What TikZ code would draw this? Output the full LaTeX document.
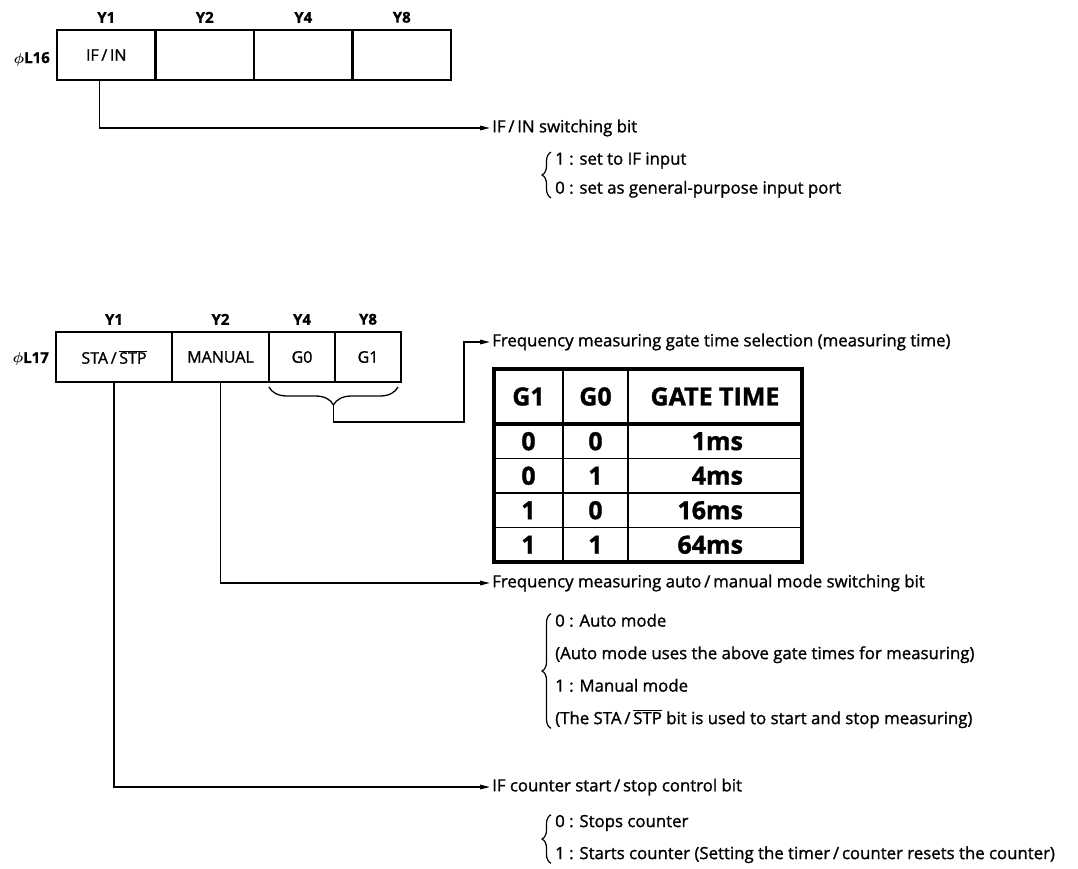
\documentclass[tikz,border=0pt]{standalone}
\usepackage{fontspec}
\setmainfont{Open Sans}[FakeBold=1.2]
\usetikzlibrary{arrows.meta,positioning,decorations.pathreplacing}
\newcommand\stpbar{\ensuremath{\overline{\mbox{STP}}}}
\newcommand\gatems[1]{\makebox[56pt][r]{#1}}

\begin{document}
\begin{tikzpicture}[
    x=1pt, y=-1pt,
    bitcell/.style={draw, line width=2.6pt, outer sep=0pt, inner sep=0pt, minimum height=50pt, font=\fontsize{16}{18}\selectfont},
    bitname/.style={inner sep=1pt, font=\bfseries\fontsize{15}{17}\selectfont},
    regname/.style={inner sep=1pt, font=\bfseries\boldmath\fontsize{15}{17}\selectfont},
    caption/.style={anchor=west, inner sep=2pt, font=\fontsize{16.8}{19}\selectfont},
    choices/.style={anchor=west, align=left, inner sep=0pt},
    curly/.style={decorate, decoration={brace, amplitude=9pt, raise=4pt}, line width=1.2pt},
    conn/.style={line width=1.3pt, -{Triangle[length=10pt,width=4.5pt]}},
    gatecell/.style={draw, line width=1.8pt, outer sep=0pt, inner sep=0pt, minimum height=34.5pt, font=\bfseries\fontsize{25}{28}\selectfont},
    node distance=0pt
]
\useasboundingbox (0,0) rectangle (1078,869);

\node[bitcell, minimum width=98.5pt] (c16a) at (106.25,55) {IF\,/\,IN};
\node[bitcell, minimum width=98.5pt, right=of c16a] (c16b) {};
\node[bitcell, minimum width=98.5pt, right=of c16b] (c16c) {};
\node[bitcell, minimum width=98.5pt, right=of c16c] (c16d) {};
\node[bitname, above=6pt of c16a] (n16a) {Y1};
\node[bitname, above=6pt of c16b] (n16b) {Y2};
\node[bitname, above=6pt of c16c] (n16c) {Y4};
\node[bitname, above=6pt of c16d] (n16d) {Y8};
\node[regname, left=6pt of c16a, yshift=-4pt] (r16) {$\phi$L16};

\node[caption] (t16) at (490,128) {IF\,/\,IN switching bit};
\node[choices, font=\fontsize{16.8}{29}\selectfont] (o16) at (555,175) {1 : set to IF input\\0 : set as general-purpose input port};
\draw[conn] ([xshift=-7pt]c16a.south) |- (t16.west);
\draw[curly] (o16.south west) -- (o16.north west);

\node[bitcell, minimum width=116pt] (c17a) at (114,357) {STA\,/\,\stpbar};
\node[bitcell, minimum width=97pt, right=of c17a] (c17b) {MANUAL};
\node[bitcell, minimum width=66pt, right=of c17b] (c17c) {G0};
\node[bitcell, minimum width=66pt, right=of c17c] (c17d) {G1};
\node[bitname, above=6pt of c17a] (n17a) {Y1};
\node[bitname, above=6pt of c17b] (n17b) {Y2};
\node[bitname, above=6pt of c17c] (n17c) {Y4};
\node[bitname, above=6pt of c17d] (n17d) {Y8};
\node[regname, left=6pt of c17a, yshift=-2pt] (r17) {$\phi$L17};

\draw[decorate, decoration={brace, amplitude=18pt}, line width=1.3pt] ([xshift=-3pt,yshift=-5pt]c17d.south east) -- ([yshift=-5pt]c17c.south west);
\coordinate (gtip) at (333.5,405);

\node[caption] (gate) at (490,342) {Frequency measuring gate time selection (measuring time)};
\draw[conn] (gtip) |- ++(130.5,17) |- (gate.west);

\node[gatecell, minimum width=69pt, minimum height=55pt] (hg1) at (528.5,396.5) {G1};
\node[gatecell, minimum width=65pt, minimum height=55pt, right=of hg1] (hg0) {G0};
\node[gatecell, minimum width=174pt, minimum height=55pt, right=of hg0] (htime) {GATE TIME};
\node[gatecell, minimum width=69pt, below=of hg1] (a1) {0};
\node[gatecell, minimum width=65pt, right=of a1] (b1) {0};
\node[gatecell, minimum width=174pt, right=of b1] (t1) {\gatems{1ms}};
\node[gatecell, minimum width=69pt, below=of a1] (a2) {0};
\node[gatecell, minimum width=65pt, right=of a2] (b2) {1};
\node[gatecell, minimum width=174pt, right=of b2] (t2) {\gatems{4ms}};
\node[gatecell, minimum width=69pt, below=of a2] (a3) {1};
\node[gatecell, minimum width=65pt, right=of a3] (b3) {0};
\node[gatecell, minimum width=174pt, right=of b3] (t3) {\gatems{16ms}};
\node[gatecell, minimum width=69pt, below=of a3] (a4) {1};
\node[gatecell, minimum width=65pt, right=of a4] (b4) {1};
\node[gatecell, minimum width=174pt, right=of b4] (t4) {\gatems{64ms}};
\draw[line width=3.2pt] (hg1.south west) -- (htime.south east);
\draw[line width=3.2pt] (hg1.north west) rectangle (t4.south east);

\node[caption] (auto) at (490,583) {Frequency measuring auto\,/\,manual mode switching bit};
\node[choices, font=\fontsize{16.8}{32.5}\selectfont] (o17b) at (555,671) {0 : Auto mode\\(Auto mode uses the above gate times for measuring)\\1 : Manual mode\\(The STA\,/\,\stpbar{} bit is used to start and stop measuring)};
\draw[conn] (c17b.south) |- (auto.west);
\draw[curly] (o17b.south west) -- (o17b.north west);

\node[caption] (cnt) at (490,787) {IF counter start\,/\,stop control bit};
\node[choices, font=\fontsize{16.8}{32}\selectfont] (o17a) at (555,839) {0 : Stops counter\\1 : Starts counter (Setting the timer\,/\,counter resets the counter)};
\draw[conn] (c17a.south) |- (cnt.west);
\draw[curly] (o17a.south west) -- (o17a.north west);
\end{tikzpicture}
\end{document}
